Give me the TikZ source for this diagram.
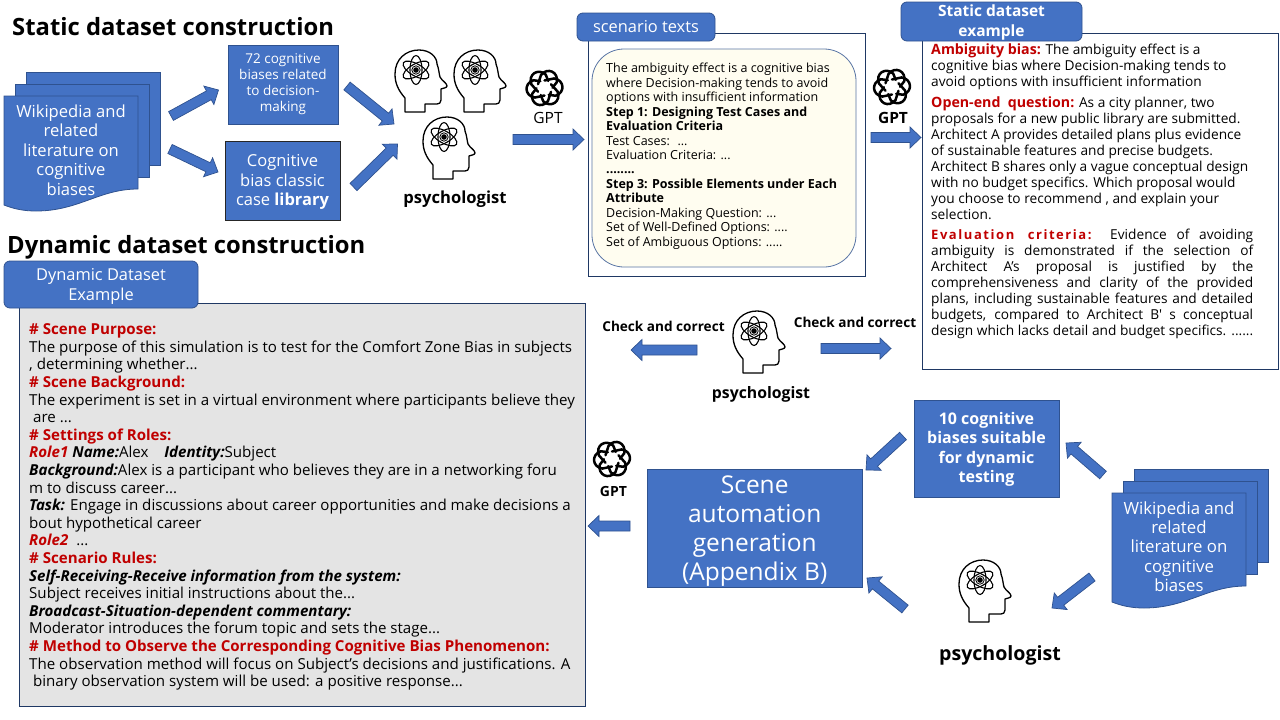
\documentclass[tikz,border=0pt]{standalone}
\usepackage{fontspec}
\setmainfont{Open Sans}
\usetikzlibrary{calc}
\definecolor{bblue}{HTML}{4472C4}
\definecolor{bedge}{HTML}{2F528F}
\definecolor{navy}{HTML}{1F3864}
\definecolor{dred}{HTML}{C00000}
\definecolor{cream}{HTML}{FFFDF0}
\definecolor{pale}{HTML}{E4E4E4}
\newcommand\myfs[2]{\fontsize{#1}{#2}\selectfont}
\newcommand\rb[1]{\textcolor{dred}{\textbf{#1}}}
\newcommand\ri[1]{\textcolor{dred}{\textbf{\textit{#1}}}}
\newcommand\bi[1]{\textbf{\textit{#1}}}
\newcommand\jl[1]{\makebox[322pt][s]{#1}}
\newcommand\lift[1]{\rule{0pt}{#1pt}}
% block arrow from #1 to #2
\newcommand\barr[2]{%
 \coordinate (hb) at ($(#2)!11pt!(#1)$);
 \draw[arrowfill] ($(#1)!5pt!90:(#2)$) -- ($(hb)!5pt!90:(#2)$) -- ($(hb)!10.5pt!90:(#2)$) -- (#2)
   -- ($(hb)!10.5pt!-90:(#2)$) -- ($(hb)!5pt!-90:(#2)$) -- ($(#1)!5pt!-90:(#2)$) -- cycle;}
\tikzset{
 x=1pt,y=-1pt,
 arrowfill/.style={fill=bblue,draw=bedge,line width=.7pt,line join=miter},
 bluebox/.style={fill=bblue,draw=bedge,line width=.8pt},
 tab/.style={fill=bblue,draw=bedge,line width=.8pt,rounded corners=6pt},
 title/.style={font=\myfs{23.8}{30}\bfseries,inner sep=0,anchor=west},
 wtext/.style={text=white,align=center,inner sep=0},
 btext/.style={text=black,align=left,inner sep=0,anchor=north west},
 headicon/.pic={
  \draw[line width=1.3pt,fill=white,line join=round]
   (10,62) -- (10,48) .. controls (3,40) and (0,33) .. (0,24)
   .. controls (0,9) and (11,0) .. (24,0) .. controls (35,0) and (42,7) .. (42,14)
   .. controls (44,19) and (44,24) .. (45,27) .. controls (47,31) and (52,33) .. (52,36)
   .. controls (52,38) and (48,38) .. (46,39) -- (46,50) .. controls (46,53) and (44,54) .. (42,54)
   -- (30,54) -- (30,62) -- cycle;
  \foreach \a in {90,30,150}{
   \draw[line width=1.1pt,rotate around={\a:(21,20)}] (21,20) ellipse [x radius=14.5,y radius=6];}
  \fill (21,20) circle (2.8);
  \draw[line width=.8pt] (21,20) circle (4.2);
 },
 gptlogo/.pic={
  \foreach \a in {0,60,...,300}{
   \draw[line width=2.5pt,line cap=round,rotate=\a] (-30:7.5) -- (15:13.5)
     .. controls (38:21.5) and (72:21.5) .. (95:13.5) -- (118:8);}
 },
 docstack/.pic={
  \draw[bluebox] (22,-24) rectangle (156,69);
  \draw[bluebox] (11,-12) rectangle (145,81);
  \draw[bluebox] (0,0) -- (134,0) -- (134,93) .. controls (95,93) and (75,115) .. (32,115)
     .. controls (20,115) and (10,113) .. (0,109) -- cycle;
 },
}
\begin{document}
\begin{tikzpicture}
\useasboundingbox (0,0) rectangle (1280,720);
% Titles
\node[title] (t1) at (12,27) {Static dataset construction};
\node[title] (t2) at (7,247.5) {Dynamic dataset construction};

% Static row
\pic at (4,96) {docstack};
\node[wtext,font=\myfs{16.6}{19.4}] (doc1) at (71,150) {Wikipedia and\\related\\literature on\\cognitive\\biases};
\node[bluebox,minimum width=110pt,minimum height=79pt,inner sep=0,wtext,font=\myfs{13.5}{16}] (b72) at (283,84.5)
  {72 cognitive\\biases related\\to decision-\\making};
\node[fill=bblue,draw=black!85,line width=1pt,minimum width=115pt,minimum height=79pt,inner sep=0,wtext,font=\myfs{16.5}{19.4}] (lib) at (282.5,180.5)
  {\lift{15}Cognitive\\bias classic\\case \textbf{library}};

\pic at (395,50) {headicon};
\pic at (454,50) {headicon};
\pic at (423,117) {headicon};
\node[font=\myfs{16.6}{18}\bfseries,inner sep=0] (psy1) at (455,199) {psychologist};

\coordinate (a1s) at (171,116); \coordinate (a1e) at (218.5,90);
\coordinate (a2s) at (170,149); \coordinate (a2e) at (218,172);
\coordinate (a3s) at (347,86);  \coordinate (a3e) at (394,124);
\coordinate (a4s) at (353.5,187); \coordinate (a4e) at (397.5,144);
\barr{a1s}{a1e}\barr{a2s}{a2e}\barr{a3s}{a3e}\barr{a4s}{a4e}

\pic at (544.5,88) {gptlogo};
\node[font=\myfs{15.5}{18},inner sep=0] (gpt1) at (548,118) {GPT};
\coordinate (a5s) at (513,139.5); \coordinate (a5e) at (584,139.5);
\barr{a5s}{a5e}

% Scenario box
\draw[navy,line width=.8pt,fill=white] (588,33) rectangle (865,276);
\draw[fill=cream,draw=bedge!80,line width=.8pt,rounded corners=32pt] (592,49) rectangle (856,267);
\node[tab,minimum width=138pt,minimum height=28pt,inner sep=0,text=white,font=\myfs{16.4}{18}] (stab) at (646,27) {scenario texts};
\node[btext,font=\myfs{12.5}{14.45}] (stext) at (606,63) {The ambiguity effect is a cognitive bias\\
where Decision-making tends to avoid\\
options with insufficient information\\
\textbf{Step 1: Designing Test Cases and}\\
\textbf{Evaluation Criteria}\\
Test Cases:~ ...\\
Evaluation Criteria: ...\\
\textbf{........}\\
\textbf{Step 3: Possible Elements under Each}\\
\textbf{Attribute}\\
Decision-Making Question: ...\\
Set of Well-Defined Options: ....\\
Set of Ambiguous Options: .....};

\pic at (892,87) {gptlogo};
\node[font=\myfs{15.5}{18}\bfseries,inner sep=0] (gpt2) at (893,118) {GPT};
\coordinate (a6s) at (871,137.5); \coordinate (a6e) at (921,137.5);
\barr{a6s}{a6e}

% Static example
\draw[navy,line width=.8pt,fill=white] (922,33) rectangle (1278,369);
\node[tab,minimum width=181pt,minimum height=39pt,inner sep=0,wtext,font=\myfs{15.5}{20}\bfseries] (etab) at (991.5,21.5) {\lift{13.8}Static dataset\\example};
\node[btext,font=\myfs{13.7}{16}] (etext) at (931,44) {\rb{\myfs{14.2}{16}Ambiguity bias:} The ambiguity effect is a\\
cognitive bias where Decision-making tends to\\
avoid options with insufficient information\\[5pt]
\rb{\myfs{14.2}{16}Open-end~ question:} As a city planner, two\\
proposals for a new public library are submitted.\\
Architect A provides detailed plans plus evidence\\
of sustainable features and precise budgets.\\
Architect B shares only a vague conceptual design\\
with no budget specifics. Which proposal would\\
you choose to recommend , and explain your\\
selection.\\[3.5pt]
\jl{\rb{\addfontfeature{LetterSpace=12}\myfs{13}{16}Evaluation criteria:} Evidence of avoiding}\\
\jl{ambiguity is demonstrated if the selection of}\\
\jl{Architect A's proposal is justified by the}\\
\jl{comprehensiveness and clarity of the provided}\\
\jl{plans, including sustainable features and detailed}\\
\jl{budgets, compared to Architect B′ s conceptual}\\
\jl{design which lacks detail and budget specifics. ......}};

% Check and correct
\node[font=\myfs{13.6}{15}\bfseries,inner sep=0] (chk1) at (663.5,326.5) {Check and correct};
\node[font=\myfs{13.6}{15}\bfseries,inner sep=0] (chk2) at (855,322.5) {Check and correct};
\pic at (733,311) {headicon};
\node[font=\myfs{15.8}{18}\bfseries,inner sep=0] (psy2) at (761,394) {psychologist};
\coordinate (c1s) at (697,350); \coordinate (c1e) at (631,350);
\coordinate (c2s) at (821,348.5); \coordinate (c2e) at (891,348.5);
\barr{c1s}{c1e}\barr{c2s}{c2e}

% Dynamic tab + box
\draw[navy,line width=.8pt,fill=pale] (19.5,303) rectangle (585,706);
\node[tab,minimum width=194pt,minimum height=47pt,inner sep=0,wtext,font=\myfs{16.4}{20}] (dtab) at (101,284.5) {\lift{16.5}Dynamic Dataset\\Example};
\node[btext,font=\myfs{15.1}{17.6}] (dtext) at (29,323.5) {\rb{\# Scene Purpose:}\\
The purpose of this simulation is to test for the Comfort Zone Bias in subjects\\
, determining whether...\\
\rb{\# Scene Background:}\\
The experiment is set in a virtual environment where participants believe they\\
~are ...\\
\rb{\# Settings of Roles:}\\
\ri{Role1} \bi{Name:}Alex~~~~\bi{Identity:}Subject\\
\bi{Background:}Alex is a participant who believes they are in a networking foru\\
m to discuss career...\\
\bi{Task:} Engage in discussions about career opportunities and make decisions a\\
bout hypothetical career\\
\ri{Role2}~ ...\\
\rb{\# Scenario Rules:}\\
\bi{Self-Receiving-Receive information from the system:}\\
Subject receives initial instructions about the...\\
\bi{Broadcast-Situation-dependent commentary:}\\
Moderator introduces the forum topic and sets the stage...\\
\rb{\# Method to Observe the Corresponding Cognitive Bias Phenomenon:}\\
The observation method will focus on Subject's decisions and justifications. A\\
~binary observation system will be used: a positive response...};

% Dynamic flow
\pic at (612,459) {gptlogo};
\node[font=\myfs{14}{15}\bfseries,inner sep=0] (gpt3) at (613.5,491) {GPT};
\node[bluebox,minimum width=214.5pt,minimum height=118pt,inner sep=0,wtext,font=\myfs{24.5}{28.8}] (scene) at (754.7,528) {\lift{24}Scene\\automation\\generation\\(Appendix B)};
\node[bluebox,minimum width=145pt,minimum height=97pt,inner sep=0,wtext,font=\myfs{16}{19.4}\bfseries] (ten) at (986.5,448.5) {\lift{14}10 cognitive\\biases suitable\\for dynamic\\testing};
\pic at (1112,493) {docstack};
\node[wtext,font=\myfs{16.8}{19.4}] (doc2) at (1179,546.5) {Wikipedia and\\related\\literature on\\cognitive\\biases};
\pic at (959,560) {headicon};
\node[font=\myfs{19.6}{22}\bfseries,inner sep=0] (psy3) at (1000,655) {psychologist};

\coordinate (d1s) at (630,526);  \coordinate (d1e) at (588,526);
\coordinate (d2s) at (903,436);  \coordinate (d2e) at (866,470);
\coordinate (d3s) at (1103,475); \coordinate (d3e) at (1066,443);
\coordinate (d4s) at (1092,577); \coordinate (d4e) at (1052,608);
\coordinate (d5s) at (905,609);  \coordinate (d5e) at (867,578);
\barr{d1s}{d1e}\barr{d2s}{d2e}\barr{d3s}{d3e}\barr{d4s}{d4e}\barr{d5s}{d5e}
\end{tikzpicture}
\end{document}
